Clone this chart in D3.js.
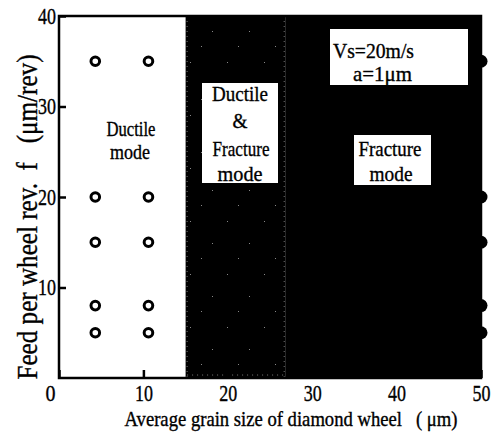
<!DOCTYPE html>
<html>
<head>
<meta charset="utf-8">
<script src="https://cdn.jsdelivr.net/npm/d3@7"></script>
<style>
body { margin: 0; background: #fff; }
svg { display: block; }
svg text { font-family: "Liberation Serif", "Times New Roman", Times, serif !important; white-space: pre; stroke: #000; stroke-width: 0.35px; }
</style>
</head>
<body>
<svg></svg>
<script>
// grain size (um) and feed (um/rev) of the tested points
const DUCTILE_X = [4.3, 10.6];
const FRACTURE_X = [50];
const FEED_VALUES = [35, 20, 15, 8, 5];

// mode regions along the grain-size axis
const REGION_NAMES = ['ductile', 'mixed', 'fracture'];
const REGION_START = [0, 15, 26.8];
const REGION_END = [15, 26.8, 50];

const X_TICKS = [0, 10, 20, 30, 40, 50];
const Y_TICKS = [10, 20, 30, 40];

const WIDTH = 499;
const HEIGHT = 438;
const SERIF = '"Liberation Serif", "Times New Roman", serif';

const svg = d3.select('svg')
.attr('width', WIDTH)
.attr('height', HEIGHT)
.attr('font-family', SERIF);

const x = d3.scaleLinear().domain([0, 50]).range([59, 481]);
const y = d3.scaleLinear().domain([0, 40]).range([378, 16]);

// sparse speckles for the mixed region
const defs = svg.append('defs');
const pat = defs.append('pattern')
.attr('id', 'speckle')
.attr('patternUnits', 'userSpaceOnUse')
.attr('width', 37).attr('height', 53);
pat.append('rect').attr('width', 37).attr('height', 53).attr('fill', '#000');
[[5, 9], [27, 31], [16, 46]].forEach(p => {
    pat.append('rect').attr('x', p[0]).attr('y', p[1])
    .attr('width', 1).attr('height', 1).attr('fill', '#888');
});

//regions
svg.selectAll('.region')
.data(REGION_NAMES)
.enter()
.append('rect')
.attr('x', (d, i) => x(REGION_START[i]))
.attr('y', y(40))
.attr('width', (d, i) => x(REGION_END[i]) - x(REGION_START[i]))
.attr('height', y(0) - y(40))
.attr('fill', d => d === 'ductile' ? '#fff' : d === 'mixed' ? 'url(#speckle)' : '#000');

// dotted edges of the mixed region
const mx0 = x(REGION_START[1]) + 1.5, mx1 = x(REGION_END[1]) - 1;
[[mx0, y(40), mx0, y(0)], [mx1, y(40), mx1, y(0)], [mx0, y(0) - 3, mx1, y(0) - 3]].forEach(l => {
    svg.append('line')
    .attr('x1', l[0]).attr('y1', l[1]).attr('x2', l[2]).attr('y2', l[3])
    .attr('stroke', '#777').attr('stroke-width', 1)
    .attr('stroke-dasharray', '1 4');
});

//frame
svg.append('rect')
.attr('x', x(0)).attr('y', y(40))
.attr('width', x(50) - x(0)).attr('height', y(0) - y(40))
.attr('fill', 'none').attr('stroke', '#000').attr('stroke-width', 2.5);

// y axis, ticks pointing inward
const yAxis = svg.append('g')
.attr('transform', `translate(${x(0)},0)`)
.call(d3.axisLeft(y).tickValues(Y_TICKS).tickSizeInner(-7).tickSizeOuter(0).tickPadding(3))
.attr('font-family', SERIF);
yAxis.select('.domain').remove();
yAxis.selectAll('line').attr('stroke-width', 2.5);
yAxis.selectAll('text')
.attr('font-size', 23).attr('fill', '#000')
.attr('textLength', 18).attr('lengthAdjust', 'spacingAndGlyphs');

// x axis
const xAxis = svg.append('g')
.attr('transform', `translate(0,${y(0)})`)
.call(d3.axisBottom(x).tickValues(X_TICKS).tickSizeInner(-8).tickSizeOuter(0).tickPadding(7))
.attr('font-family', SERIF);
xAxis.select('.domain').remove();
xAxis.selectAll('line').attr('stroke-width', 2.5);
xAxis.selectAll('text')
.attr('font-size', 23).attr('fill', '#000')
.attr('textLength', d => d === 0 ? 10 : 18).attr('lengthAdjust', 'spacingAndGlyphs')
.attr('dx', d => d === 0 ? -9 : 0);

// open circles: ductile mode
const ductilePts = [];
DUCTILE_X.forEach(gx => FEED_VALUES.forEach(f => ductilePts.push({gx, f})));
svg.selectAll('.open')
.data(ductilePts)
.enter()
.append('circle')
.attr('cx', d => x(d.gx))
.attr('cy', d => y(d.f))
.attr('r', 4.3)
.attr('fill', '#fff')
.attr('stroke', '#000')
.attr('stroke-width', 3);

// filled circles: fracture mode
const fracturePts = [];
FRACTURE_X.forEach(gx => FEED_VALUES.forEach(f => fracturePts.push({gx, f})));
svg.selectAll('.filled')
.data(fracturePts)
.enter()
.append('circle')
.attr('cx', d => x(d.gx))
.attr('cy', d => y(d.f))
.attr('r', 6.5)
.attr('fill', '#000');

// white label boxes and condensed text
function box(x0, y0, w, h) {
    svg.append('rect').attr('x', x0).attr('y', y0).attr('width', w).attr('height', h).attr('fill', '#fff');
}
function word(t, px, py, len, size, anchor) {
    svg.append('text')
    .attr('x', px).attr('y', py)
    .attr('text-anchor', anchor || 'middle')
    .attr('font-size', size)
    .attr('textLength', len)
    .attr('lengthAdjust', 'spacingAndGlyphs')
    .text(t);
}

word('Ductile', 131, 136, 49, 21);
word('mode', 130, 159, 40, 21);

box(202, 83, 76, 100);
word('Ductile', 240, 101, 56, 22);
word('&', 240, 128, 15, 22);
word('Fracture', 241, 156, 57, 22);
word('mode', 240, 181, 45, 22);

box(354, 135, 77, 50);
word('Fracture', 390, 156, 63, 22);
word('mode', 391, 181, 43, 22);

box(330, 29, 138, 56);
word('Vs=20m/s', 333, 58, 81, 21, 'start');
word('a=1\u03bcm', 353, 81, 59, 21, 'start');

// axis titles
svg.append('text')
.attr('transform', 'translate(37,217) rotate(-90)')
.attr('text-anchor', 'middle')
.attr('font-size', 29)
.attr('textLength', 325)
.attr('lengthAdjust', 'spacingAndGlyphs')
.text('Feed per wheel rev.  f   (\u03bcm/rev)');

svg.append('text')
.attr('x', 291).attr('y', 426)
.attr('text-anchor', 'middle')
.attr('font-size', 21)
.attr('textLength', 333)
.attr('lengthAdjust', 'spacingAndGlyphs')
.text('Average grain size of diamond wheel   ( \u03bcm)');
</script>
</body>
</html>
